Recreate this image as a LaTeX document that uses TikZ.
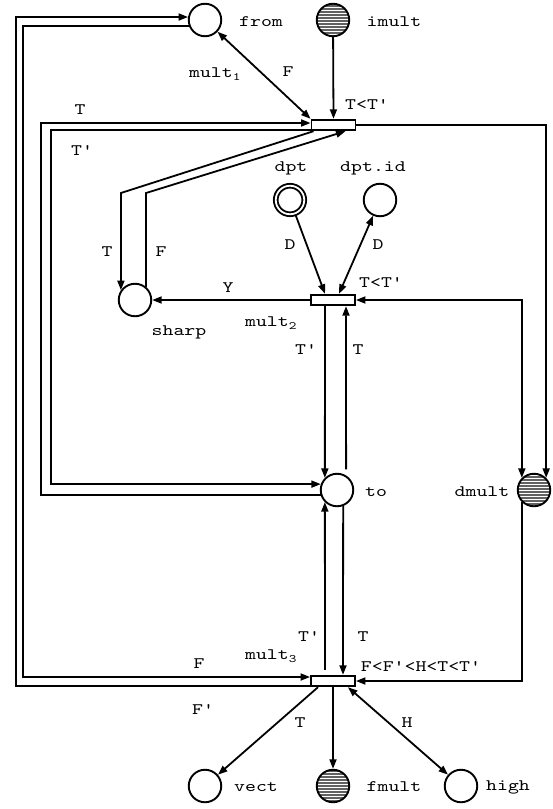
\documentclass[tikz,border=0pt]{standalone}
\usepackage{fontspec}
\newfontfamily\labfont{lmmono10-regular}[Extension=.otf,FakeStretch=1.3]
\usetikzlibrary{arrows.meta,patterns,calc}
\begin{document}
\begin{tikzpicture}[x=1pt,y=-1pt,
  place/.style={circle,draw,line width=1.9pt,minimum size=32.5pt,inner sep=0pt},
  filled/.style={preaction={fill=black!62},pattern=horizontal lines,pattern color=white},
  dbl/.style={double,double distance=1.8pt,minimum size=28.5pt,outer sep=2.8pt},
  trans/.style={rectangle,draw,line width=1.9pt,minimum width=44pt,minimum height=10.5pt,inner sep=0pt,fill=white},
  arc/.style={line width=1.8pt,-{Triangle[length=9.5pt,width=7pt]}},
  biarc/.style={line width=1.8pt,{Triangle[length=9.5pt,width=7pt]}-{Triangle[length=9.5pt,width=7pt]}},
  lab/.style={font=\labfont\fontsize{16}{18}\selectfont,inner sep=0pt}
]
\path[use as bounding box] (0,0) rectangle (553,809);

% places and transitions
\node[place] (from) at (205,20) {};
\node[place,filled] (imult) at (333,20) {};
\node[trans] (m1) at (333.5,125) {};
\node[place,dbl] (dpt) at (290,200) {};
\node[place] (dptid) at (380,200) {};
\node[trans] (m2) at (333,300) {};
\node[place] (sharp) at (135,300) {};
\node[place] (to) at (337,490) {};
\node[place,filled] (dmult) at (534,490) {};
\node[trans] (m3) at (333,681) {};
\node[place] (vect) at (205,786) {};
\node[place,filled] (fmult) at (333,786) {};
\node[place] (high) at (461,786) {};

% helper coordinates
\coordinate (xFo) at (16,0);
\coordinate (xFi) at (23,0);
\coordinate (xTo) at (41,0);
\coordinate (xTi) at (51,0);
\coordinate (ysh) at (0,193);
\coordinate (m1lo) at ([yshift=1.5pt]m1.south west);
\coordinate (m1hi) at ([yshift=2pt]m1.west);
\coordinate (m3hi) at ([yshift=4pt]m3.west);
\coordinate (m3lo) at ([yshift=1pt]m3.south west);
\coordinate (toT) at ([yshift=6pt]to.58);

% arcs
\draw[biarc] (from) -- (m1.north west);
\draw[arc] (imult) -- (m1.north);
\draw[arc] (m1.east) -| (dmult.north east);
\draw[biarc] (m2.east) -| (dmult.north west);
\draw[arc] (dmult.south west) |- (m3.east);
\draw[arc] (dpt) -- ([xshift=-8pt]m2.north);
\draw[biarc] (dptid) -- ([xshift=6pt]m2.north);
\draw[arc] (m2.west) -- (sharp.east);
\draw[arc] ([xshift=3pt]m1.south west) -- (sharp.145 |- ysh) -- (sharp.145);
\draw[arc] (sharp.50) -- (sharp.50 |- ysh) -- ([xshift=12pt]m1.south);
\draw[arc] (m1lo) -- (xTi |- m1lo) -- (xTi |- to.160) -- (to.160);
\draw[arc] (to.197) -- (xTo |- to.197) -- (xTo |- m1hi) -- (m1hi);
\draw[arc] (from.200) -- (xFi |- from.200) -- (xFi |- m3hi) -- (m3hi);
\draw[arc] (m3lo) -- (xFo |- m3lo) -- (xFo |- from.170) -- (from.170);
\draw[arc] ([xshift=-8pt,yshift=5pt]m3.north) -- (to.225);
\draw[arc] (to.291) -- ([xshift=10pt]m3.north);
\draw[arc] ([xshift=-8pt]m2.south) -- (to.135);
\draw[arc] (toT) -- ([xshift=13pt]m2.south);
\draw[arc] ([xshift=-15pt]m3.south) -- (vect);
\draw[arc] (m3.south) -- (fmult);
\draw[biarc] ([xshift=15pt]m3.south) -- (high);

% labels
\node[lab] (lfrom) at (261,22) {from};
\node[lab] (limult) at (394,22) {imult};
\node[lab] (lm1) at (215,74) {mult\textsubscript{1}};
\node[lab] (lF1) at (288,72) {F};
\node[lab] (lg1) at (367,105) {T<T'};
\node[lab] (lT1) at (80,110) {T};
\node[lab] (lT1p) at (82,151) {T'};
\node[lab] (ldpt) at (291,168) {dpt};
\node[lab] (ldptid) at (373,168) {dpt.id};
\node[lab] (lD1) at (290,245) {D};
\node[lab] (lD2) at (378,245) {D};
\node[lab] (lg2) at (381,283) {T<T'};
\node[lab] (lTs) at (107,252) {T};
\node[lab] (lFs) at (161,252) {F};
\node[lab] (lY) at (228,288) {Y};
\node[lab] (lsharp) at (179,332) {sharp};
\node[lab] (lm2) at (271,323) {mult\textsubscript{2}};
\node[lab] (lT2p) at (306,350) {T'};
\node[lab] (lT2) at (358,350) {T};
\node[lab] (lto) at (376,492) {to};
\node[lab] (ldmult) at (482,492) {dmult};
\node[lab] (lT3p) at (309,637) {T'};
\node[lab] (lT3) at (363,637) {T};
\node[lab] (lm3) at (271,656) {mult\textsubscript{3}};
\node[lab] (lg3) at (421,667) {F<F'<H<T<T'};
\node[lab] (lF3) at (199,664) {F};
\node[lab] (lF3p) at (203,710) {F'};
\node[lab] (lTv) at (300,723) {T};
\node[lab] (lH) at (407,723) {H};
\node[lab] (lvect) at (256,787) {vect};
\node[lab] (lfmult) at (394,787) {fmult};
\node[lab] (lhigh) at (508,787) {high};
\end{tikzpicture}
\end{document}
